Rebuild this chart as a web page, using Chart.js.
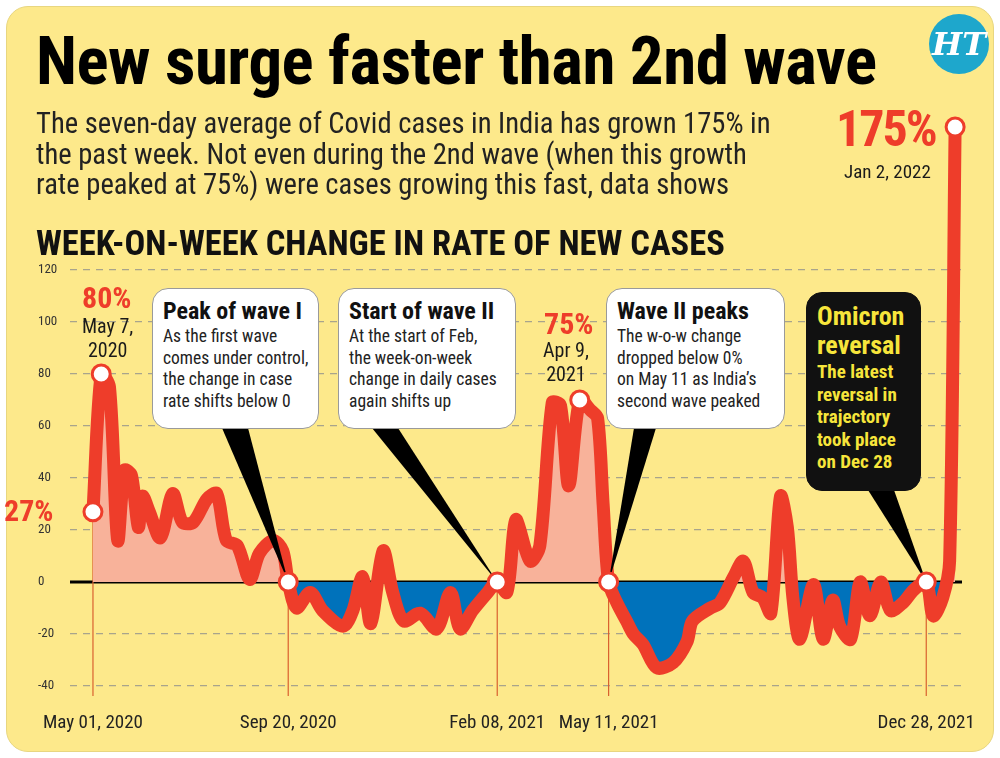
<!DOCTYPE html>
<html><head><meta charset="utf-8">
<script src="https://cdn.jsdelivr.net/npm/chart.js@4.4.1/dist/chart.umd.min.js"></script>
<style>
html,body{margin:0;padding:0;background:#fff;width:1000px;height:758px;overflow:hidden}
#card{position:absolute;left:6px;top:6px;width:986px;height:744px;background:#fde98b;border-radius:22px;border:1px solid #e8d680}
#c{position:absolute;left:0;top:0}
.t{position:absolute;font-family:"Roboto Condensed","Liberation Sans Narrow",sans-serif;color:#1a1a1a;white-space:nowrap}
.box{position:absolute;background:#fff;border:1.5px solid #9a9a9a;border-radius:16px;box-sizing:border-box;padding:9px 10px;font-family:"Roboto Condensed","Liberation Sans Narrow",sans-serif;color:#222;white-space:nowrap}
.box b{display:block;font-size:24px;line-height:27px;margin-bottom:1px;color:#111}
.box span{font-size:17.5px;line-height:21.5px;display:block}
.red{color:#ee3d2a;font-weight:bold}
</style></head><body>
<div id="card"></div>
<canvas id="c" width="1000" height="758"></canvas>
<div class="t" style="left:36px;top:22px;font-size:67px;font-weight:bold;letter-spacing:-0.5px;color:#000">New surge faster than 2nd wave</div>
<div class="t" style="left:36px;top:108px;font-size:28.6px;line-height:30.5px;color:#222">The seven-day average of Covid cases in India has grown 175% in<br>the past week. Not even during the 2nd wave (when this growth<br>rate peaked at 75%) were cases growing this fast, data shows</div>
<div class="t" style="left:36px;top:223px;font-size:34.5px;font-weight:bold;color:#111">WEEK-ON-WEEK CHANGE IN RATE OF NEW CASES</div>
<div style="position:absolute;left:929px;top:14px;width:60px;height:60px;border-radius:50%;background:#1ea7cc;color:#fff;font:italic bold 32px 'DejaVu Serif',serif;text-align:center;line-height:60px">HT</div>
<div class="t red" style="left:836px;top:100px;font-size:50px;letter-spacing:-2px">175%</div>
<div class="t" style="left:844px;top:160px;font-size:19px">Jan 2, 2022</div>
<div class="t red" style="left:82px;top:280px;font-size:30px">80%</div>
<div class="t" style="left:82px;top:314px;font-size:20px;line-height:24px;text-align:center">May 7,<br>2020</div>
<div class="t red" style="left:4px;top:493px;font-size:30px">27%</div>
<div class="t red" style="left:544px;top:306px;font-size:30px">75%</div>
<div class="t" style="left:543px;top:338px;font-size:20px;line-height:24px;text-align:center">Apr 9,<br>2021</div>
<div class="box" style="left:152px;top:288px;width:167px;height:141px"><b>Peak of wave I</b><span>As the first wave<br>comes under control,<br>the change in case<br>rate shifts below 0</span></div>
<div class="box" style="left:338px;top:288px;width:178px;height:141px"><b>Start of wave II</b><span>At the start of Feb,<br>the week-on-week<br>change in daily cases<br>again shifts up</span></div>
<div class="box" style="left:606px;top:288px;width:179px;height:141px"><b>Wave II peaks</b><span>The w-o-w change<br>dropped below 0%<br>on May 11 as India’s<br>second wave peaked</span></div>
<div class="box" style="left:806px;top:292px;width:115px;height:199px;background:#111;border-color:#111;color:#f7e53b"><b style="color:#f7e53b;font-size:26px;line-height:29px">Omicron<br>reversal</b><span style="font-weight:bold;font-size:19px;line-height:22.5px">The latest<br>reversal in<br>trajectory<br>took place<br>on Dec 28</span></div>
<script>
const days=[0,6,12,18,23,28,33,36,41,49,58,65,73,83,90,97,105,114,121,131,138,142,148,158,167,182,189,196,202,211,218,226,238,250,260,267,276,287,294,301,306,308,318,325,334,340,346,354,362,367,371,375,381,388,393,400,410,422,432,436,449,456,466,473,480,487,493,500,505,509,514,524,531,538,543,551,558,565,573,580,589,597,606,611,618,623,627];
const values=[27,80,75,16,43,41,21,33,27,17,34,23,23,32,34,16,14,1,11,16,12,0,-10,-4,-11,-17,-11,2,-16,12,-4,-15,-12,-18,-4,-18,-11,-4,0,-4,20,24,8,14,69,68,37,70,66,63,30,0,-8,-15,-20,-24,-33,-31,-23,-15,-10,-8,2,8,-4,-6,-12,33,21,-6,-22,-1,-22,-7,-17,-22,0,-13,0,-11,-8,-3,0,-13,-6,8,175];
const markedDays=[0,6,142,294,354,375,606,627];
const tickDays=[0,142,294,375,606];
const tickLabels=['May 01, 2020','Sep 20, 2020','Feb 08, 2021','May 11, 2021','Dec 28, 2021'];
const yTicks=[120,100,80,60,40,20,0,-20,-40];
const vlineDays=[0,142,294,375,606];
const tails=[[222,248,428,142],[372,398,428,294],[634,656,428,375],[868,894,490,606]];
const RED='#ee3d2a';
const FONT='Roboto Condensed, Liberation Sans Narrow, sans-serif';
const pts=days.map((d,i)=>({x:d,y:values[i]}));
const deco={id:'deco',
 beforeDatasetsDraw(ch){const c=ch.ctx,x=ch.scales.x,y=ch.scales.y,a=ch.chartArea;
  c.save();
  c.strokeStyle='#000';c.lineWidth=3;c.beginPath();c.moveTo(a.left,y.getPixelForValue(0));c.lineTo(a.right,y.getPixelForValue(0));c.stroke();
  c.strokeStyle='#d9602f';c.lineWidth=1.2;
  vlineDays.forEach(d=>{const i=days.indexOf(d);c.beginPath();c.moveTo(x.getPixelForValue(d),y.getPixelForValue(values[i]));c.lineTo(x.getPixelForValue(d),a.bottom+10);c.stroke();});
  c.restore();},
 afterDatasetsDraw(ch){const c=ch.ctx,x=ch.scales.x,y=ch.scales.y;
  c.save();c.fillStyle='#000';
  tails.forEach(t=>{const i=days.indexOf(t[3]);c.beginPath();c.moveTo(t[0],t[2]);c.lineTo(t[1],t[2]);c.lineTo(x.getPixelForValue(t[3]),y.getPixelForValue(values[i]));c.closePath();c.fill();});
  markedDays.forEach(d=>{const i=days.indexOf(d);const px=x.getPixelForValue(d),py=y.getPixelForValue(values[i]);
   c.beginPath();c.arc(px,py,9,0,Math.PI*2);c.fillStyle='#fff';c.fill();c.lineWidth=3;c.strokeStyle=RED;c.stroke();});
  c.restore();}
};
new Chart(document.getElementById('c'),{type:'line',
 data:{datasets:[{data:pts,borderColor:RED,borderWidth:13,tension:0.3,clip:false,
  pointRadius:0,borderCapStyle:'round',borderJoinStyle:'round',
  fill:{target:'origin',above:'#f8b29a',below:'#0072bb'}}]},
 options:{responsive:false,animation:false,
  layout:{padding:{left:38,right:38,top:270,bottom:14}},
  plugins:{legend:{display:false},tooltip:{enabled:false}},
  scales:{
   x:{type:'linear',min:-16.7,max:632,border:{display:false},grid:{display:false},
    afterFit(s){s.height=58;},
    afterBuildTicks(s){s.ticks=tickDays.map(v=>({value:v}));},
    ticks:{autoSkip:false,maxRotation:0,padding:18,color:'#222',font:{family:FONT,size:19},
     callback:(v)=>tickLabels[tickDays.indexOf(v)]}},
   y:{min:-40,max:120,
    afterFit(s){s.width=32;},
    afterBuildTicks(s){s.ticks=yTicks.map(v=>({value:v}));},
    grid:{color:c=>c.tick&&c.tick.value===0?'rgba(0,0,0,0)':'#a8a48c',lineWidth:1.2,drawTicks:false},
    border:{display:false,dash:[7,6]},
    ticks:{padding:6,crossAlign:'far',color:'#333',font:{family:FONT,size:13}}}
  }},
 plugins:[deco]});
</script>
</body></html>
